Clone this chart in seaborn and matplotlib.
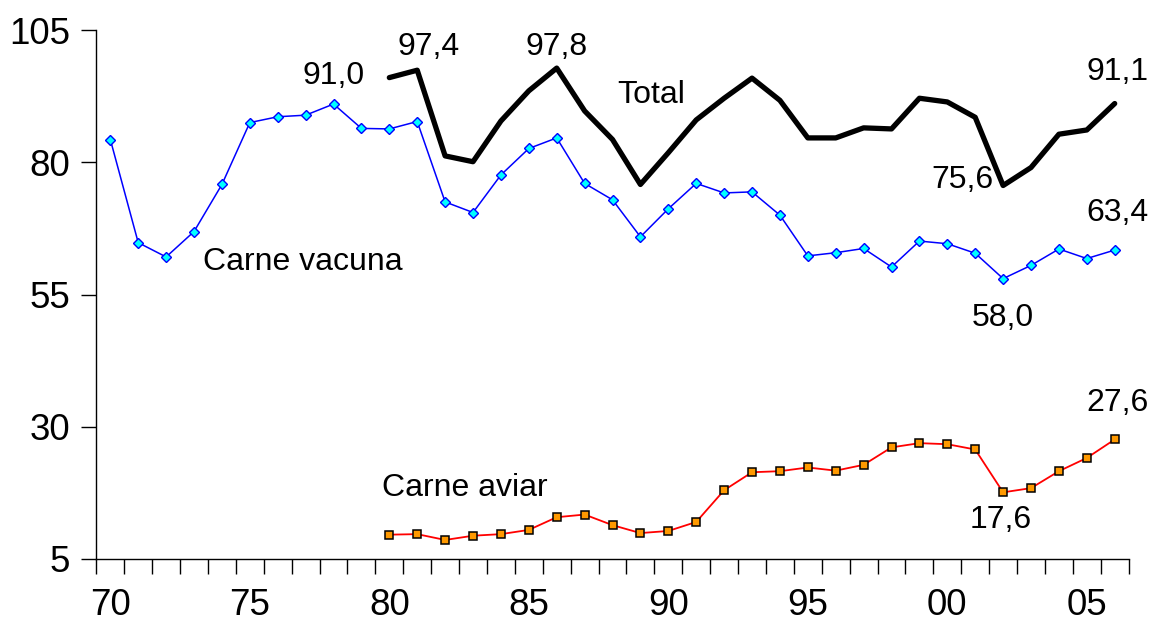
"""Consumo de carnes: total, vacuna y aviar"""
import matplotlib
matplotlib.use("Agg")
import matplotlib.pyplot as plt
import pandas as pd
import seaborn as sns

years_vacuna = list(range(1970, 2007))
vacuna = [84.3, 64.8, 62.1, 66.9, 75.8, 87.5, 88.6, 88.9, 91.0, 86.4,
          86.3, 87.7, 72.5, 70.5, 77.6, 82.6, 84.6, 76.0, 72.9, 65.9,
          71.2, 76.0, 74.2, 74.4, 70.0, 62.3, 62.9, 63.7, 60.2, 65.1,
          64.6, 62.8, 58.0, 60.5, 63.6, 61.8, 63.4]

years_80 = list(range(1980, 2007))
total = [96.0, 97.4, 81.2, 80.1, 87.8, 93.5, 97.8, 89.7, 84.3, 75.8,
         81.8, 88.0, 92.1, 95.9, 91.7, 84.6, 84.6, 86.5, 86.3, 92.1,
         91.4, 88.5, 75.6, 79.0, 85.3, 86.1, 91.1]
aviar = [9.6, 9.7, 8.6, 9.4, 9.7, 10.5, 12.9, 13.4, 11.4, 9.9,
         10.3, 12.0, 18.0, 21.4, 21.6, 22.3, 21.7, 22.8, 26.1, 26.9,
         26.7, 25.7, 17.6, 18.4, 21.6, 24.1, 27.6]

y_ticks = [5, 30, 55, 80, 105]
x_label_years = [1970, 1975, 1980, 1985, 1990, 1995, 2000, 2005]
x_labels = ["70", "75", "80", "85", "90", "95", "00", "05"]

# etiquetas de texto: (texto, x, y)
notes = [
    ("91,0", 1978.0, 96.3), ("97,4", 1981.4, 101.8),
    ("97,8", 1986.0, 101.8), ("Total", 1989.4, 92.7),
    ("75,6", 2000.55, 76.6), ("91,1", 2006.1, 97.1),
    ("63,4", 2006.1, 70.4), ("58,0", 2002.0, 50.6),
    ("Carne vacuna", 1976.9, 61.1), ("Carne aviar", 1982.7, 18.4),
    ("27,6", 2006.1, 34.5), ("17,6", 2001.9, 12.4),
]

df_vac = pd.DataFrame({"year": years_vacuna, "value": vacuna})
df_80 = pd.DataFrame({"year": years_80, "total": total, "aviar": aviar})

sns.set_style("white")
plt.rcParams["font.family"] = ["Liberation Sans", "DejaVu Sans"]
plt.rcParams["text.color"] = "black"
plt.rcParams["xtick.color"] = "black"
plt.rcParams["ytick.color"] = "black"

fig = plt.figure(figsize=(11.57, 6.25), dpi=100)
ax = fig.add_axes([0.0833, 0.1056, 0.8922, 0.8464])

sns.lineplot(data=df_80, x="year", y="total", ax=ax, color="black",
             linewidth=3.8, zorder=3)
sns.lineplot(data=df_vac, x="year", y="value", ax=ax, color="#0000FF",
             linewidth=1.1, marker="D", markersize=5,
             markerfacecolor="#00FFFF", markeredgecolor="#0000FF",
             markeredgewidth=1.0, zorder=4)
sns.lineplot(data=df_80, x="year", y="aviar", ax=ax, color="#FF0000",
             linewidth=1.3, marker="s", markersize=6,
             markerfacecolor="#FF9900", markeredgecolor="black",
             markeredgewidth=1.1, zorder=4)

for txt, x, y in notes:
    ax.text(x, y, txt, ha="center", va="center", fontsize=23, color="black")

ax.set_xlim(1969.5, 2006.5)
ax.set_ylim(5, 105)
ax.set_yticks(y_ticks)
ax.set_yticklabels([str(v) for v in y_ticks], fontsize=26.5)
ax.set_xticks(x_label_years)
ax.set_xticklabels(x_labels, fontsize=26.5)
ax.set_xticks([y - 0.5 for y in range(1970, 2008)], minor=True)
ax.tick_params(axis="x", which="major", length=0, pad=21)
ax.tick_params(axis="x", which="minor", length=11, width=1, direction="out",
               color="black", bottom=True)
ax.tick_params(axis="y", which="major", length=11, width=1, direction="out",
               color="black", left=True, pad=8)
ax.set_xlabel("")
ax.set_ylabel("")

for side in ["top", "right"]:
    ax.spines[side].set_visible(False)
for side in ["left", "bottom"]:
    ax.spines[side].set_color("black")
    ax.spines[side].set_linewidth(1)

fig.savefig("out.png", dpi=100)
